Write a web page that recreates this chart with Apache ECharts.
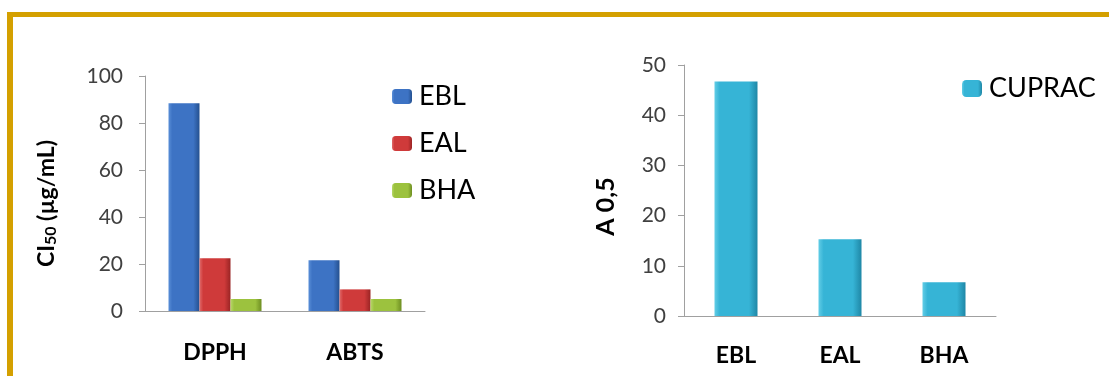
<!DOCTYPE html>
<html>
<head>
<meta charset="utf-8">
<script src="https://cdn.jsdelivr.net/npm/echarts@6/dist/echarts.min.js"></script>
<style>
  html, body { margin: 0; padding: 0; background: #fff; }
  #chart { width: 1109px; height: 376px; }
</style>
</head>
<body>
<div id="chart"></div>
<script>
// Left panel: IC50 values per assay
const assays = ['DPPH', 'ABTS'];
const ebl = [88.4, 21.6];
const eal = [22.4, 9.2];
const bha = [5.1, 5.1];
const leftTicks = [0, 20, 40, 60, 80, 100];

// Right panel: CUPRAC A0.5 values
const samples = ['EBL', 'EAL', 'BHA'];
const cuprac = [46.7, 15.3, 6.7];
const rightTicks = [0, 10, 20, 30, 40, 50];

const FONT = 'Lato, "Open Sans", sans-serif';

// Horizontal shading to give each bar a rounded, bevelled look
function shade(light, mid, dark) {
  return {
    type: 'linear', x: 0, y: 0, x2: 1, y2: 0,
    colorStops: [
      { offset: 0, color: light },
      { offset: 0.12, color: mid },
      { offset: 0.8, color: mid },
      { offset: 1, color: dark }
    ]
  };
}

const blue = shade('#5a8fd8', '#3d73c4', '#24508f');
const red = shade('#e06a6a', '#cf3a3a', '#9a2424');
const green = shade('#b7d86a', '#9cc23e', '#6e8e22');
const cyan = shade('#62cde6', '#36b4d6', '#1f87a6');

const tickLabel = { color: '#404040', fontSize: 21, fontFamily: FONT };
const catLabel = { color: '#000', fontSize: 23, fontWeight: 'bold', fontFamily: FONT };
const axisLine = { show: true, lineStyle: { color: '#a0a0a0', width: 1 } };
const legendText = { fontSize: 27, color: '#000', fontFamily: FONT, padding: [0, 0, 0, 2] };

const chart = echarts.init(document.getElementById('chart'), null, { renderer: 'canvas' });

chart.setOption({
  animation: false,
  backgroundColor: '#fff',
  graphic: [
    { type: 'rect', shape: { x: 7, y: 12, width: 1110, height: 5 }, style: { fill: '#D4A000' } },
    { type: 'rect', shape: { x: 7, y: 12, width: 6, height: 370 }, style: { fill: '#D4A000' } }
  ],
  grid: [
    { left: 145, top: 76, width: 280, height: 235 },
    { left: 684, top: 65, width: 312, height: 251 }
  ],
  legend: [
    {
      data: ['EBL', 'EAL', 'BHA'],
      orient: 'vertical',
      left: 387, top: 78,
      itemWidth: 20, itemHeight: 15, itemGap: 20,
      textStyle: legendText
    },
    {
      data: ['CUPRAC'],
      left: 957, top: 70,
      itemWidth: 20, itemHeight: 17,
      textStyle: legendText
    }
  ],
  xAxis: [
    {
      type: 'category', gridIndex: 0, data: assays,
      axisLine, axisTick: { show: false },
      axisLabel: Object.assign({ margin: 30 }, catLabel)
    },
    {
      type: 'category', gridIndex: 1, data: samples,
      axisLine, axisTick: { show: false },
      axisLabel: Object.assign({ margin: 28 }, catLabel)
    }
  ],
  yAxis: [
    {
      type: 'value', gridIndex: 0, min: 0, max: 100, interval: 20,
      axisLine, axisTick: { show: true, length: 6, lineStyle: { color: '#a0a0a0' } },
      splitLine: { show: false },
      axisLabel: Object.assign({ margin: 22, formatter: v => leftTicks.includes(v) ? String(v) : '' }, tickLabel),
      name: '{a|CI}{b|50}{a| (µg/mL)}',
      nameLocation: 'middle', nameGap: 86, nameRotate: 90,
      nameTextStyle: {
        padding: [0, 20, 0, 0],
        rich: {
          a: { fontSize: 23, fontWeight: 'bold', color: '#000', fontFamily: FONT },
          b: { fontSize: 16, fontWeight: 'bold', color: '#000', fontFamily: FONT, verticalAlign: 'bottom', padding: [9, 0, 0, 0] }
        }
      }
    },
    {
      type: 'value', gridIndex: 1, min: 0, max: 50, interval: 10,
      axisLine, axisTick: { show: true, length: 6, lineStyle: { color: '#a0a0a0' } },
      splitLine: { show: false },
      axisLabel: Object.assign({ margin: 18, formatter: v => rightTicks.includes(v) ? String(v) : '' }, tickLabel),
      name: 'A 0,5',
      nameLocation: 'middle', nameGap: 66, nameRotate: 90,
      nameTextStyle: { fontSize: 25, fontWeight: 'bold', color: '#000', fontFamily: FONT, padding: [0, 32, 0, 0] }
    }
  ],
  series: [
    { name: 'EBL', type: 'bar', xAxisIndex: 0, yAxisIndex: 0, data: ebl, barWidth: 31, barGap: 0, itemStyle: { color: blue } },
    { name: 'EAL', type: 'bar', xAxisIndex: 0, yAxisIndex: 0, data: eal, barWidth: 31, barGap: 0, itemStyle: { color: red } },
    { name: 'BHA', type: 'bar', xAxisIndex: 0, yAxisIndex: 0, data: bha, barWidth: 31, barGap: 0, itemStyle: { color: green } },
    { name: 'CUPRAC', type: 'bar', xAxisIndex: 1, yAxisIndex: 1, data: cuprac, barWidth: 43, itemStyle: { color: cyan } }
  ]
});
</script>
</body>
</html>
